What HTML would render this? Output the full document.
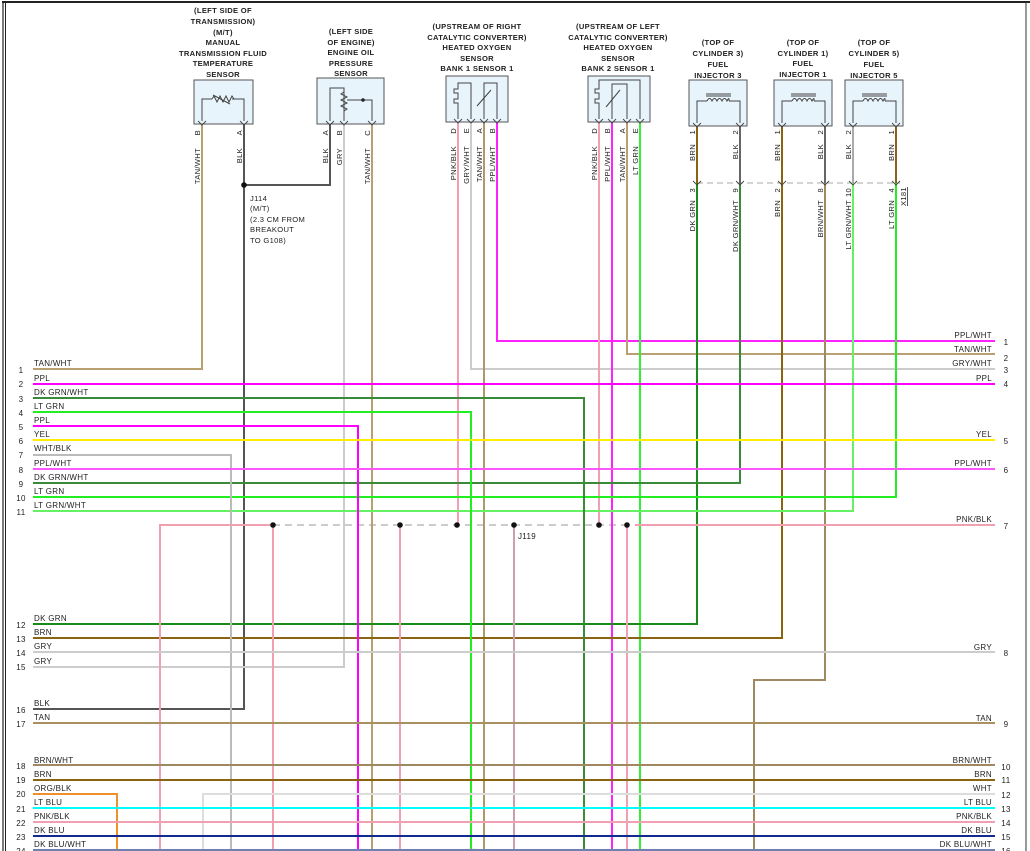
<!DOCTYPE html>
<html><head><meta charset="utf-8"><style>
html,body{margin:0;padding:0;background:#fff;}
svg{display:block;font-family:"Liberation Sans",Arial,sans-serif;font-size:8px;fill:#222;}
text{letter-spacing:0.3px;}
.w{fill:none;stroke-width:2;}
.bx{fill:#e8f4fc;stroke:#555;stroke-width:1;}
.in{fill:none;stroke:#444;stroke-width:1;}
.h{font-weight:bold;font-size:7.6px;text-anchor:middle;fill:#222;}
.r{text-anchor:end;}
</style></head><body>
<svg width="1030" height="851" viewBox="0 0 1030 851" xmlns="http://www.w3.org/2000/svg">
<!-- borders -->
<line x1="2" y1="2" x2="1030" y2="2" stroke="#222" stroke-width="2"/>
<line x1="3" y1="2" x2="3" y2="851" stroke="#222" stroke-width="1.2"/>
<line x1="5.5" y1="2" x2="5.5" y2="851" stroke="#222" stroke-width="1"/>
<line x1="1026" y1="2" x2="1026" y2="851" stroke="#333" stroke-width="1"/>

<!-- headers -->
<g class="h">
<text x="223" y="13">(LEFT SIDE OF</text><text x="223" y="24">TRANSMISSION)</text><text x="223" y="35">(M/T)</text><text x="223" y="45">MANUAL</text><text x="223" y="56">TRANSMISSION FLUID</text><text x="223" y="66">TEMPERATURE</text><text x="223" y="77">SENSOR</text>
<text x="351" y="34">(LEFT SIDE</text><text x="351" y="45">OF ENGINE)</text><text x="351" y="55">ENGINE OIL</text><text x="351" y="66">PRESSURE</text><text x="351" y="76">SENSOR</text>
<text x="477" y="29">(UPSTREAM OF RIGHT</text><text x="477" y="40">CATALYTIC CONVERTER)</text><text x="477" y="50">HEATED OXYGEN</text><text x="477" y="61">SENSOR</text><text x="477" y="71">BANK 1 SENSOR 1</text>
<text x="618" y="29">(UPSTREAM OF LEFT</text><text x="618" y="40">CATALYTIC CONVERTER)</text><text x="618" y="50">HEATED OXYGEN</text><text x="618" y="61">SENSOR</text><text x="618" y="71">BANK 2 SENSOR 1</text>
<text x="718" y="45">(TOP OF</text><text x="718" y="56">CYLINDER 3)</text><text x="718" y="67">FUEL</text><text x="718" y="78">INJECTOR 3</text>
<text x="803" y="45">(TOP OF</text><text x="803" y="56">CYLINDER 1)</text><text x="803" y="66">FUEL</text><text x="803" y="77">INJECTOR 1</text>
<text x="874" y="45">(TOP OF</text><text x="874" y="56">CYLINDER 5)</text><text x="874" y="67">FUEL</text><text x="874" y="78">INJECTOR 5</text>
</g>

<!-- boxes -->
<rect class="bx" x="194" y="80" width="59" height="44"/>
<path class="in" d="M202 121 V99 H212 M232 99 H244 V121"/>
<path class="in" d="M212 99 l2-3 3 6 3-6 3 6 3-6 3 6 3-6 2 3"/>
<path class="in" d="M213 95 L230 104"/>
<rect class="bx" x="317" y="78" width="67" height="46"/>
<path class="in" d="M330 121 V88 H344 V121 M372 121 V100 H347"/>
<path class="in" d="M344 92 l-3 2 6 3 -6 3 6 3 -6 3 6 3 -3 2"/>
<circle cx="363" cy="100" r="1.8" fill="#222"/>
<rect class="bx" x="446" y="76" width="62" height="46"/>
<path class="in" d="M458 119 V103 H454 V99 H458 V93 H454 V89 H458 V83 H471 V119 M484 119 V83 H497 V119"/>
<path class="in" d="M477 106 L491 90"/>
<rect class="bx" x="588" y="76" width="62" height="46"/>
<path class="in" d="M599 119 V103 H595 V99 H599 V93 H595 V89 H599 V80 H640 V119 M612 119 V84 H627 V119"/>
<path class="in" d="M606 107 L620 90"/>
<g>
<rect class="bx" x="689" y="80" width="58" height="46"/>
<rect class="bx" x="774" y="80" width="58" height="46"/>
<rect class="bx" x="845" y="80" width="58" height="46"/>
<path class="in" d="M697 123 V101 H707 M729 101 H740 V123 M707 101 q2.5-5 5 0 q2.5-5 5 0 q2.5-5 5 0 q2.5-5 5 0 q2.5-5 2 0 M706 94 H731 M706 96 H731"/>
<path class="in" d="M782 123 V101 H792 M814 101 H825 V123 M792 101 q2.5-5 5 0 q2.5-5 5 0 q2.5-5 5 0 q2.5-5 5 0 q2.5-5 2 0 M791 94 H816 M791 96 H816"/>
<path class="in" d="M853 123 V101 H863 M885 101 H896 V123 M863 101 q2.5-5 5 0 q2.5-5 5 0 q2.5-5 5 0 q2.5-5 5 0 q2.5-5 2 0 M862 94 H887 M862 96 H887"/>
</g>

<!-- X181 dashed -->
<line x1="697" y1="183" x2="900" y2="183" stroke="#aaa" stroke-width="1" stroke-dasharray="6,4"/>
<text x="0" y="0" transform="translate(906,206) rotate(-90)" style="font-size:7.6px;text-decoration:underline">X181</text>
<!-- J119 dashed -->
<line x1="273" y1="525" x2="630" y2="525" stroke="#999" stroke-width="1" stroke-dasharray="7,5"/>

<!-- wires -->
<g class="w">
<path stroke="#b8a070" d="M202 124 V369 H33"/>
<path stroke="#555" d="M244 124 V709 H33"/>
<path stroke="#555" d="M244 185 H330 V124"/>
<path stroke="#ccc" d="M344 124 V667 H33"/>
<path stroke="#b8a070" d="M372 124 V851"/>
<path stroke="#f0a0b0" d="M458 122 V525"/>
<path stroke="#ccc" d="M471 122 V369 H995"/>
<path stroke="#b09868" d="M484 122 V851"/>
<path stroke="#ff22ff" d="M497 122 V341 H995"/>
<path stroke="#f0a0b0" d="M599 122 V525"/>
<path stroke="#ff22ff" d="M612 122 V851"/>
<path stroke="#b8a070" d="M627 122 V354 H995"/>
<path stroke="#33ee33" d="M640 122 V851"/>
<!-- injectors upper -->
<path stroke="#8a6410" d="M697 126 V183"/>
<path stroke="#666" d="M740 126 V183"/>
<path stroke="#8a6410" d="M782 126 V183"/>
<path stroke="#666" d="M825 126 V183"/>
<path stroke="#aaa" d="M853 126 V183"/>
<path stroke="#8a6410" d="M896 126 V183"/>
<!-- injectors lower -->
<path stroke="#1a8a1a" d="M697 183 V624 H33"/>
<path stroke="#3a8a3a" d="M740 183 V483 H33"/>
<path stroke="#8a6410" d="M782 183 V638 H33"/>
<path stroke="#a08860" d="M825 183 V680 H754 V851"/>
<path stroke="#66f066" d="M853 183 V511 H33"/>
<path stroke="#22ee22" d="M896 183 V497 H33"/>
<!-- left rows -->
<path stroke="#ff00ff" d="M33 384 H995"/>
<path stroke="#3a8a3a" d="M33 398 H584 V851"/>
<path stroke="#22ee22" d="M33 412 H471 V851"/>
<path stroke="#ff00ff" d="M33 426 H358 V851"/>
<path stroke="#ffee00" d="M33 440 H995"/>
<path stroke="#bbb" d="M33 455 H231 V851"/>
<path stroke="#ff55ff" d="M33 469 H995"/>
<path stroke="#f0a0b0" d="M160 851 V525 H270"/>
<path stroke="#f0a0b0" d="M273 525 V851"/>
<path stroke="#f0a0b0" d="M400 525 V851"/>
<path stroke="#c8a0b0" d="M514 525 V851"/>
<path stroke="#f0a0b0" d="M627 525 V851"/>
<path stroke="#f0a0b0" d="M635 525 H995"/>
<path stroke="#ccc" d="M33 652 H995"/>
<path stroke="#a89060" d="M33 723 H995"/>
<path stroke="#a08860" d="M33 765 H995"/>
<path stroke="#8a6410" d="M33 780 H995"/>
<path stroke="#f0902a" d="M33 794 H117 V851"/>
<path stroke="#ddd" d="M203 851 V794 H995"/>
<path stroke="#00ffff" d="M33 808 H995"/>
<path stroke="#f0a0b0" d="M33 822 H995"/>
<path stroke="#102a90" d="M33 836 H995"/>
<path stroke="#7080b0" d="M33 850 H995"/>
</g>

<!-- junction dots -->
<g fill="#111">
<circle cx="244" cy="185" r="2.8"/>
<circle cx="273" cy="525" r="2.8"/><circle cx="400" cy="525" r="2.8"/><circle cx="457" cy="525" r="2.8"/>
<circle cx="514" cy="525" r="2.8"/><circle cx="599" cy="525" r="2.8"/><circle cx="627" cy="525" r="2.8"/>
</g>
<text x="518" y="539">J119</text>
<g style="font-size:7.6px"><text x="250" y="201">J114</text><text x="250" y="211">(M/T)</text><text x="250" y="222">(2.3 CM FROM</text><text x="250" y="232">BREAKOUT</text><text x="250" y="243">TO G108)</text></g>

<!-- pin arrows -->
<g fill="none" stroke="#444" stroke-width="0.9">
<path d="M198 121 l4 4 4-4 M240 121 l4 4 4-4 M326 121 l4 4 4-4 M340 121 l4 4 4-4 M368 121 l4 4 4-4 M454 119 l4 4 4-4 M467 119 l4 4 4-4 M480 119 l4 4 4-4 M493 119 l4 4 4-4 M595 119 l4 4 4-4 M608 119 l4 4 4-4 M623 119 l4 4 4-4 M636 119 l4 4 4-4 M693 123 l4 4 4-4 M736 123 l4 4 4-4 M778 123 l4 4 4-4 M821 123 l4 4 4-4 M849 123 l4 4 4-4 M892 123 l4 4 4-4 M693 181 l4 4 4-4 M736 181 l4 4 4-4 M778 181 l4 4 4-4 M821 181 l4 4 4-4 M849 181 l4 4 4-4 M892 181 l4 4 4-4"/>
</g>

<!-- vertical labels -->
<g style="font-size:7.6px" text-anchor="end">
<text transform="translate(200,130) rotate(-90)">B</text><text transform="translate(200,148) rotate(-90)">TAN/WHT</text>
<text transform="translate(242,130) rotate(-90)">A</text><text transform="translate(242,148) rotate(-90)">BLK</text>
<text transform="translate(328,130) rotate(-90)">A</text><text transform="translate(328,148) rotate(-90)">BLK</text>
<text transform="translate(342,130) rotate(-90)">B</text><text transform="translate(342,148) rotate(-90)">GRY</text>
<text transform="translate(370,130) rotate(-90)">C</text><text transform="translate(370,148) rotate(-90)">TAN/WHT</text>
<text transform="translate(456,128) rotate(-90)">D</text><text transform="translate(456,146) rotate(-90)">PNK/BLK</text>
<text transform="translate(469,128) rotate(-90)">E</text><text transform="translate(469,146) rotate(-90)">GRY/WHT</text>
<text transform="translate(482,128) rotate(-90)">A</text><text transform="translate(482,146) rotate(-90)">TAN/WHT</text>
<text transform="translate(495,128) rotate(-90)">B</text><text transform="translate(495,146) rotate(-90)">PPL/WHT</text>
<text transform="translate(597,128) rotate(-90)">D</text><text transform="translate(597,146) rotate(-90)">PNK/BLK</text>
<text transform="translate(610,128) rotate(-90)">B</text><text transform="translate(610,146) rotate(-90)">PPL/WHT</text>
<text transform="translate(625,128) rotate(-90)">A</text><text transform="translate(625,146) rotate(-90)">TAN/WHT</text>
<text transform="translate(638,128) rotate(-90)">E</text><text transform="translate(638,146) rotate(-90)">LT GRN</text>
<text transform="translate(695,130) rotate(-90)">1</text><text transform="translate(695,144) rotate(-90)">BRN</text>
<text transform="translate(738,130) rotate(-90)">2</text><text transform="translate(738,144) rotate(-90)">BLK</text>
<text transform="translate(780,130) rotate(-90)">1</text><text transform="translate(780,144) rotate(-90)">BRN</text>
<text transform="translate(823,130) rotate(-90)">2</text><text transform="translate(823,144) rotate(-90)">BLK</text>
<text transform="translate(851,130) rotate(-90)">2</text><text transform="translate(851,144) rotate(-90)">BLK</text>
<text transform="translate(894,130) rotate(-90)">1</text><text transform="translate(894,144) rotate(-90)">BRN</text>
<text transform="translate(695,188) rotate(-90)">3</text><text transform="translate(695,200) rotate(-90)">DK GRN</text>
<text transform="translate(738,188) rotate(-90)">9</text><text transform="translate(738,200) rotate(-90)">DK GRN/WHT</text>
<text transform="translate(780,188) rotate(-90)">2</text><text transform="translate(780,200) rotate(-90)">BRN</text>
<text transform="translate(823,188) rotate(-90)">8</text><text transform="translate(823,200) rotate(-90)">BRN/WHT</text>
<text transform="translate(851,188) rotate(-90)">10</text><text transform="translate(851,200) rotate(-90)">LT GRN/WHT</text>
<text transform="translate(894,188) rotate(-90)">4</text><text transform="translate(894,200) rotate(-90)">LT GRN</text>
</g>

<!-- left labels -->
<g>
<text x="34" y="366">TAN/WHT</text><text x="34" y="381">PPL</text><text x="34" y="395">DK GRN/WHT</text><text x="34" y="409">LT GRN</text><text x="34" y="423">PPL</text><text x="34" y="437">YEL</text><text x="34" y="451">WHT/BLK</text><text x="34" y="466">PPL/WHT</text><text x="34" y="480">DK GRN/WHT</text><text x="34" y="494">LT GRN</text><text x="34" y="508">LT GRN/WHT</text>
<text x="34" y="621">DK GRN</text><text x="34" y="635">BRN</text><text x="34" y="649">GRY</text><text x="34" y="664">GRY</text><text x="34" y="706">BLK</text><text x="34" y="720">TAN</text>
<text x="34" y="763">BRN/WHT</text><text x="34" y="777">BRN</text><text x="34" y="791">ORG/BLK</text><text x="34" y="805">LT BLU</text><text x="34" y="819">PNK/BLK</text><text x="34" y="833">DK BLU</text><text x="34" y="847">DK BLU/WHT</text>
</g>
<g text-anchor="middle">
<text x="21" y="373">1</text><text x="21" y="387">2</text><text x="21" y="402">3</text><text x="21" y="416">4</text><text x="21" y="430">5</text><text x="21" y="444">6</text><text x="21" y="458">7</text><text x="21" y="473">8</text><text x="21" y="487">9</text><text x="21" y="501">10</text><text x="21" y="515">11</text>
<text x="21" y="628">12</text><text x="21" y="642">13</text><text x="21" y="656">14</text><text x="21" y="670">15</text><text x="21" y="713">16</text><text x="21" y="727">17</text>
<text x="21" y="769">18</text><text x="21" y="783">19</text><text x="21" y="797">20</text><text x="21" y="812">21</text><text x="21" y="826">22</text><text x="21" y="840">23</text><text x="21" y="854">24</text>
</g>
<!-- right labels -->
<g class="r">
<text x="992" y="338">PPL/WHT</text><text x="992" y="352">TAN/WHT</text><text x="992" y="366">GRY/WHT</text><text x="992" y="381">PPL</text><text x="992" y="437">YEL</text><text x="992" y="466">PPL/WHT</text><text x="992" y="522">PNK/BLK</text>
<text x="992" y="650">GRY</text><text x="992" y="721">TAN</text><text x="992" y="763">BRN/WHT</text><text x="992" y="777">BRN</text><text x="992" y="791">WHT</text><text x="992" y="805">LT BLU</text><text x="992" y="819">PNK/BLK</text><text x="992" y="833">DK BLU</text><text x="992" y="847">DK BLU/WHT</text>
</g>
<g text-anchor="middle">
<text x="1006" y="345">1</text><text x="1006" y="361">2</text><text x="1006" y="373">3</text><text x="1006" y="387">4</text><text x="1006" y="444">5</text><text x="1006" y="473">6</text><text x="1006" y="529">7</text>
<text x="1006" y="656">8</text><text x="1006" y="727">9</text><text x="1006" y="770">10</text><text x="1006" y="783">11</text><text x="1006" y="798">12</text><text x="1006" y="812">13</text><text x="1006" y="826">14</text><text x="1006" y="840">15</text><text x="1006" y="854">16</text>
</g>
</svg>
</body></html>
